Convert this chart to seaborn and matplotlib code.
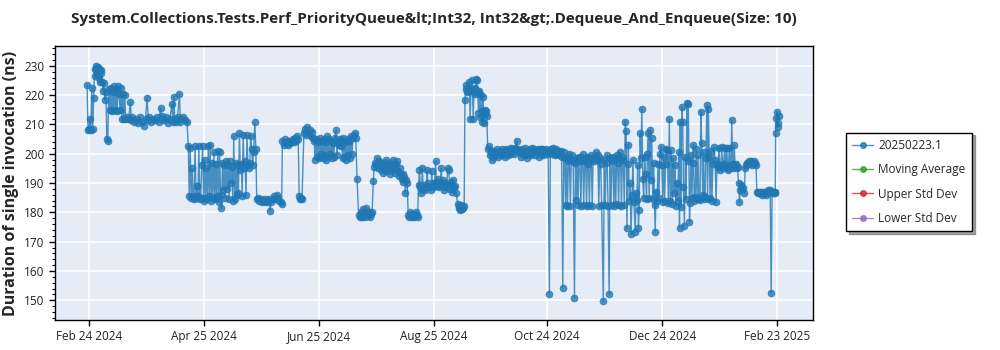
import numpy as np
import pandas as pd
import matplotlib
matplotlib.use("Agg")
import matplotlib.pyplot as plt
import matplotlib.dates as mdates
from matplotlib.ticker import AutoMinorLocator
from matplotlib.lines import Line2D
import seaborn as sns

# ---------------- data (day offset from 2024-02-24, duration ns) ----------------
start_date = "2024-02-24"
series_label = "20250223.1"
legend_extra = ["Moving Average", "Upper Std Dev", "Lower Std Dev"]
title_text = "System.Collections.Tests.Perf_PriorityQueue&lt;Int32, Int32&gt;.Dequeue_And_Enqueue(Size: 10)"
ylabel_text = "Duration of single invocation (ns)"
tick_dates = ["2024-02-24", "2024-04-25", "2024-06-25", "2024-08-25",
              "2024-10-24", "2024-12-24", "2025-02-23"]
y_ticks = [150, 160, 170, 180, 190, 200, 210, 220, 230]

seg_feb = [(-1.0, 223.5), (-0.5, 208.0), (0.0, 208.3), (0.5, 212.0), (1.0, 208.0),
           (1.5, 222.5), (2.0, 208.5), (2.5, 219.0), (3.0, 229.0), (3.3, 226.5),
           (3.6, 228.5), (4.0, 230.0), (4.3, 227.0), (4.6, 229.5), (5.0, 228.0),
           (5.3, 226.0), (5.6, 229.0), (6.0, 224.5), (6.3, 227.5), (6.6, 228.5),
           (7.0, 224.5), (7.5, 221.5), (8.0, 224.0), (8.5, 218.5), (9.0, 221.0),
           (9.5, 205.0), (10.0, 204.5), (10.5, 222.0), (11.0, 215.0), (11.5, 222.5),
           (12.0, 214.5), (12.5, 221.0), (13.0, 215.0), (13.5, 223.0), (14.0, 215.0),
           (14.5, 222.0), (15.0, 214.5), (15.5, 223.0), (16.0, 220.5), (16.5, 215.0),
           (17.0, 222.5), (17.5, 212.0), (18.0, 220.5), (18.5, 212.0), (19.0, 220.0),
           (19.5, 212.0), (20.0, 212.5)]

seg_mar = [(21, 212.0), (22, 217.5), (22.5, 211.5), (23, 212.5), (24, 211.0),
           (25, 212.0), (26, 210.5), (27, 212.5), (28, 211.0), (29, 209.5),
           (30, 212.0), (30.8, 219.0), (31.5, 211.5), (32, 212.5), (33, 211.0),
           (34, 212.0), (35, 211.5), (36, 212.5), (37, 211.0), (38, 215.5),
           (38.5, 212.0), (39, 213.0), (40, 211.5), (41, 212.5), (42, 210.5),
           (43, 212.0), (44, 217.0), (44.5, 211.0), (45, 219.5), (45.5, 212.0),
           (46, 211.0), (47, 212.5), (48, 220.5), (48.5, 211.0), (49, 212.0),
           (50, 212.5), (51, 211.5), (52, 211.0)]

seg_apr = [(52.7, 202.5), (53.2, 185.5), (53.7, 202.0), (54.2, 185.0), (54.7, 195.0),
           (55.2, 185.5), (55.7, 184.5), (56.3, 202.5), (56.8, 185.0), (57.3, 189.0),
           (57.8, 185.5), (58.3, 202.5), (58.8, 184.5), (59.3, 185.0), (59.8, 196.0),
           (60.3, 202.5), (60.8, 184.0), (61.3, 198.0), (61.8, 185.0), (62.3, 195.0),
           (62.8, 184.5), (63.3, 202.5), (63.8, 185.5), (64.3, 203.0), (64.8, 184.0),
           (65.3, 197.0), (65.8, 185.0), (66.3, 200.5), (66.8, 184.5), (67.3, 196.5),
           (67.8, 185.5), (68.3, 201.0), (68.8, 183.5), (69.3, 200.5), (69.8, 186.0),
           (70.3, 181.5), (70.8, 197.0), (71.3, 187.5), (71.8, 196.0), (72.3, 185.0),
           (72.8, 197.5), (73.3, 188.0), (73.8, 196.0), (74.3, 184.5), (74.8, 197.5),
           (75.3, 190.0), (75.8, 195.5), (76.3, 184.0), (76.8, 206.0), (77.3, 184.5),
           (77.8, 197.0), (78.3, 186.0), (78.8, 196.0), (79.3, 186.5), (79.8, 207.0),
           (80.3, 194.5), (80.8, 196.5), (81.3, 185.5), (81.8, 206.5), (82.3, 195.0),
           (82.8, 197.5), (83.3, 186.0), (83.8, 206.5), (84.3, 196.0), (84.8, 195.0),
           (85.3, 197.0), (85.8, 206.0), (86.3, 201.5), (86.8, 196.0), (87.3, 200.5),
           (88.0, 210.8), (88.5, 201.5)]

seg_may = [(89.0, 184.5), (89.7, 185.0), (90.4, 184.0), (91.1, 184.5), (91.8, 183.5),
           (92.5, 184.0), (93.2, 184.5), (93.9, 183.5), (94.6, 184.0), (95.3, 184.5),
           (96.0, 180.5), (96.7, 183.5), (97.4, 184.5), (98.1, 185.5), (98.8, 184.5),
           (99.5, 186.0), (100.2, 185.0), (100.9, 184.0), (101.6, 183.5), (102.2, 183.0),
           (102.6, 204.5), (103.2, 203.0), (103.8, 205.0), (104.4, 203.5), (105.0, 204.0),
           (105.6, 203.0), (106.2, 204.5), (106.8, 203.5), (107.4, 204.0), (108.0, 205.0),
           (108.6, 204.0), (109.2, 205.5), (109.8, 204.5), (110.4, 206.0), (111.0, 205.0),
           (111.5, 185.5), (112.0, 184.5), (112.5, 185.0), (113.0, 184.5),
           (114.0, 207.0), (114.6, 208.5), (115.2, 206.5), (115.8, 209.0), (116.4, 207.5),
           (117.0, 208.0), (117.6, 206.0), (118.2, 207.5), (118.8, 205.5)]

seg_jun = [(119.4, 204.5), (119.9, 198.0), (120.4, 205.0), (120.9, 199.0), (121.4, 204.0),
           (121.9, 198.5), (122.4, 205.5), (122.9, 200.0), (123.4, 204.5), (123.9, 198.5),
           (124.4, 205.0), (124.9, 199.5), (125.4, 204.0), (125.9, 198.0), (126.4, 206.0),
           (126.9, 199.0), (127.4, 205.0), (127.9, 200.0), (128.4, 204.5), (128.9, 198.5),
           (129.4, 203.5), (129.9, 199.0), (130.4, 205.5), (131.0, 208.0), (131.5, 199.5),
           (132.0, 204.0), (132.5, 203.0), (133.0, 205.0), (133.5, 202.5), (134.0, 204.5),
           (134.5, 198.5), (135.0, 205.5), (135.5, 199.0), (136.0, 204.0), (136.5, 198.0),
           (137.0, 205.0), (137.5, 199.5), (138.0, 204.5), (138.5, 198.5), (139.0, 206.0),
           (139.5, 200.0), (140.0, 205.5), (140.5, 206.5), (141.0, 207.0), (141.5, 205.5),
           (142.2, 191.5)]

seg_jul = [(143.0, 179.0), (143.6, 178.5), (144.2, 180.0), (144.8, 178.5), (145.4, 181.0),
           (146.0, 179.5), (146.6, 178.5), (147.2, 181.5), (147.8, 179.0), (148.4, 180.0),
           (149.0, 178.5), (149.6, 179.5), (150.2, 180.0), (150.8, 190.8),
           (151.3, 195.5), (151.8, 197.0), (152.3, 196.0), (152.8, 198.5), (153.3, 195.0),
           (153.8, 197.5), (154.3, 196.0), (154.8, 194.5), (155.3, 197.0), (155.8, 193.5),
           (156.3, 196.5), (156.8, 195.0), (157.3, 198.0), (157.8, 194.0), (158.3, 196.5),
           (158.8, 195.5), (159.3, 197.0), (159.8, 193.0), (160.3, 196.0), (160.8, 194.5),
           (161.3, 198.0), (161.8, 195.0), (162.3, 193.5), (162.8, 196.5), (163.3, 197.5),
           (163.8, 194.0), (164.3, 192.5), (164.8, 195.0), (165.3, 193.0), (165.8, 191.5),
           (166.3, 193.0), (166.8, 190.5), (167.3, 192.0), (167.8, 186.5), (168.3, 191.0),
           (168.8, 190.0)]

seg_aug = [(169.3, 179.0), (169.8, 178.5), (170.3, 180.0), (170.8, 179.0), (171.3, 178.5),
           (171.8, 179.5), (172.3, 178.5), (172.8, 179.0), (173.3, 180.0), (173.8, 179.0),
           (174.3, 178.5), (174.8, 189.5), (175.3, 194.5), (175.8, 188.5), (176.3, 186.5),
           (176.8, 195.0), (177.3, 188.0), (177.8, 189.5), (178.3, 187.5), (178.8, 188.5),
           (179.3, 194.5), (179.8, 190.0), (180.3, 188.5), (180.8, 189.0), (181.3, 187.5),
           (181.8, 194.0), (182.3, 188.5), (182.8, 190.0), (183.3, 189.0), (183.8, 197.5),
           (184.3, 190.5), (184.8, 189.0), (185.3, 191.5), (185.8, 188.5), (186.3, 190.0),
           (186.8, 195.0), (187.3, 189.5), (187.8, 191.0), (188.3, 187.5), (188.8, 190.0),
           (189.3, 188.5), (189.8, 189.5), (190.3, 195.0), (190.8, 194.5), (191.3, 188.0),
           (191.8, 190.5), (192.3, 187.0), (192.8, 189.5), (193.3, 191.0), (193.8, 188.5),
           (194.3, 189.0), (194.8, 186.5),
           (195.5, 183.0), (196.0, 181.5), (196.5, 182.0), (197.0, 180.8), (197.5, 182.5),
           (198.0, 181.0), (198.5, 181.5), (199.0, 182.0)]

seg_sep = [(199.4, 218.5), (199.8, 222.0), (200.2, 223.5), (200.6, 221.0), (201.0, 222.5),
           (201.4, 224.5), (201.8, 221.5), (202.2, 212.0), (202.6, 221.5), (203.0, 225.0),
           (203.4, 222.0), (203.8, 212.0), (204.2, 221.0), (204.6, 222.5), (205.0, 220.5),
           (205.4, 225.5), (205.8, 225.0), (206.2, 221.0), (206.6, 214.0), (207.0, 221.5),
           (207.4, 212.5), (207.8, 220.0), (208.2, 211.0), (208.6, 214.5), (209.0, 219.5),
           (209.4, 210.5), (209.8, 215.0), (210.2, 213.5), (210.6, 214.5), (211.0, 213.0),
           (211.5, 201.5), (212.0, 202.5), (212.5, 199.5), (213.0, 200.5), (213.5, 198.0),
           (214.0, 200.0), (214.5, 199.0), (215.0, 201.0), (215.5, 199.5), (216.0, 200.5),
           (216.5, 201.5), (217.0, 199.0), (217.5, 200.5), (218.0, 201.0), (218.5, 199.5),
           (219.0, 201.5), (219.5, 200.0), (220.0, 200.5), (220.5, 199.0), (221.0, 201.5),
           (221.5, 200.5), (222.0, 201.0), (222.5, 199.5), (223.0, 201.5), (223.5, 200.0),
           (224.0, 202.0), (224.5, 200.5), (225.0, 201.5), (225.5, 200.0), (226.0, 202.0),
           (226.8, 204.5), (227.3, 201.5), (228.0, 200.5), (228.5, 201.0), (229.0, 199.0),
           (229.5, 201.5), (230.0, 200.0), (230.5, 201.0), (231.0, 199.5), (231.5, 202.0),
           (232.0, 200.5), (232.5, 198.5), (233.0, 201.0), (233.5, 200.0), (234.0, 201.5),
           (234.5, 199.5), (235.0, 202.0), (235.5, 200.5), (236.0, 201.5), (236.5, 199.5),
           (237.0, 201.0), (237.5, 200.5), (238.0, 201.5), (238.5, 199.0), (239.0, 200.5),
           (239.5, 201.5), (240.0, 200.0), (240.5, 201.5), (241.0, 199.5), (241.5, 201.0),
           (242.0, 200.5), (242.5, 201.5), (243.0, 200.0), (243.5, 201.0)]

seg_oct = [(244.2, 152.3), (244.7, 200.5), (245.2, 201.5), (245.7, 200.0), (246.2, 202.0),
           (246.7, 201.0), (247.2, 199.5), (247.7, 201.5), (248.2, 200.0), (248.7, 201.0),
           (249.2, 199.5), (249.7, 200.5), (250.2, 201.0), (250.7, 199.0), (251.3, 154.2),
           (251.8, 200.5), (252.3, 198.5), (252.8, 182.5), (253.3, 199.0), (253.8, 182.0),
           (254.3, 197.5), (254.8, 200.0), (255.3, 182.0), (255.8, 198.0), (256.3, 199.5),
           (256.8, 197.5), (257.5, 150.9), (258.0, 197.0), (258.4, 184.2), (258.9, 198.5),
           (259.4, 182.5), (259.9, 199.0), (260.4, 197.5), (260.9, 182.0), (261.4, 198.0),
           (261.9, 200.0), (262.4, 182.5), (262.9, 197.5), (263.4, 198.5), (263.9, 182.0),
           (264.4, 199.0), (264.9, 196.5), (265.4, 182.5), (265.9, 198.0), (266.4, 199.5),
           (266.9, 182.0), (267.4, 198.5), (267.9, 197.5), (268.4, 199.0), (268.9, 200.5),
           (269.4, 198.0), (269.9, 199.5), (270.4, 182.0), (270.9, 198.5), (271.4, 196.5),
           (271.9, 182.5), (272.8, 149.8), (273.3, 198.0), (273.8, 182.5), (274.3, 197.0),
           (274.8, 199.5), (275.3, 182.0), (275.9, 152.1), (276.4, 198.5), (276.9, 182.5),
           (277.4, 197.5), (277.9, 199.0), (278.4, 182.0), (278.9, 198.5), (279.4, 183.0),
           (279.9, 199.5), (280.4, 197.0), (280.9, 182.5), (281.4, 198.5), (281.9, 200.5),
           (282.4, 182.0), (282.9, 199.0)]

seg_dec = [(283.4, 198.0), (283.9, 182.5), (284.4, 211.0), (284.9, 207.9), (285.3, 174.5),
           (285.8, 196.5), (286.1, 203.0), (286.6, 184.0), (287.0, 189.9), (287.5, 172.5),
           (288.0, 186.0), (288.5, 198.0), (289.0, 183.5), (289.7, 173.4), (290.2, 186.5),
           (290.6, 184.2), (291.0, 196.0), (291.4, 174.5), (291.8, 180.8), (292.3, 207.0),
           (292.8, 198.5), (293.2, 215.3), (293.7, 191.5), (294.2, 185.0), (294.7, 199.0),
           (295.2, 193.0), (295.7, 184.5), (296.2, 200.0), (296.7, 207.0), (297.1, 185.0),
           (297.6, 208.0), (298.0, 191.0), (298.5, 205.3), (299.0, 184.5), (299.5, 197.0),
           (300.0, 182.5), (300.3, 173.4), (300.8, 187.0), (301.3, 184.0), (301.8, 196.5),
           (302.3, 185.0), (302.8, 200.0), (303.3, 202.2), (303.8, 196.0), (304.3, 183.5),
           (304.8, 199.0), (305.3, 184.0), (305.8, 196.5), (306.3, 201.5), (306.8, 201.3),
           (307.3, 183.3), (307.8, 211.8), (308.3, 184.0), (308.8, 201.3), (309.3, 183.0),
           (309.8, 198.5), (310.3, 186.5), (310.9, 196.2), (311.3, 182.3), (311.8, 189.9),
           (312.3, 184.0), (312.8, 200.5), (313.2, 174.8), (313.6, 211.0), (313.9, 181.7),
           (314.4, 215.9), (314.9, 211.0), (315.3, 188.7), (315.8, 175.5), (316.3, 199.0),
           (316.7, 184.5), (317.1, 217.2), (317.5, 197.5), (317.9, 217.0), (318.5, 176.8),
           (318.8, 183.1), (319.3, 199.5), (319.8, 185.0), (320.2, 197.0), (320.6, 203.0)]

seg_jan = [(321.0, 184.0), (321.5, 185.3), (322.0, 201.5), (322.5, 184.5), (323.0, 199.5),
           (323.5, 185.0), (324.1, 184.2), (324.5, 214.4), (325.0, 203.6), (325.5, 186.0),
           (326.0, 200.5), (326.4, 184.5), (326.8, 185.3), (327.2, 198.5), (327.7, 216.7),
           (328.1, 184.5), (328.5, 215.2), (329.0, 199.0), (329.4, 184.8), (329.9, 201.0),
           (330.4, 184.0), (330.9, 196.5), (331.6, 202.2), (332.1, 197.9), (332.6, 183.6),
           (333.1, 196.5), (333.6, 195.5), (334.1, 202.0), (334.7, 194.4), (335.2, 196.0),
           (335.6, 202.2), (336.1, 195.0), (336.6, 196.5), (337.1, 202.0), (337.6, 195.5),
           (338.3, 201.9), (338.7, 195.0), (339.1, 194.4), (339.6, 202.0), (340.1, 196.0),
           (340.5, 195.5), (340.9, 211.5), (341.4, 196.5), (341.8, 195.0), (342.2, 203.0),
           (342.7, 196.0), (343.1, 196.5), (343.6, 195.0), (344.0, 195.5), (344.5, 189.9),
           (345.0, 183.6), (345.4, 187.6), (345.9, 189.5), (346.4, 188.5), (347.1, 188.2),
           (347.6, 186.5), (348.0, 195.0), (348.5, 196.0), (349.0, 197.0), (349.5, 196.5),
           (350.0, 197.5), (350.7, 196.7), (351.2, 197.5), (351.7, 196.0), (352.2, 197.0),
           (352.7, 197.5), (353.3, 196.7), (353.8, 196.0)]

seg_feb25 = [(354.2, 187.1), (354.7, 186.5), (355.2, 187.0), (355.7, 186.5), (356.2, 187.0),
             (356.7, 186.5), (357.2, 186.0), (357.7, 186.5), (358.2, 187.0), (358.7, 186.5),
             (359.2, 186.0), (359.7, 187.0), (360.2, 187.5), (360.7, 186.5), (361.3, 187.6),
             (361.8, 152.6), (362.3, 187.0), (362.8, 186.5), (363.3, 187.0), (363.6, 186.5),
             (364.0, 187.1), (364.2, 207.0), (364.5, 212.1), (364.8, 214.4), (365.2, 209.0),
             (365.7, 210.4), (366.0, 213.0)]

segments = [seg_feb, seg_mar, seg_apr, seg_may, seg_jun, seg_jul, seg_aug,
            seg_sep, seg_oct, seg_dec, seg_jan, seg_feb25]

# ---------------- build frame ----------------
rows = [p for seg in segments for p in seg]
df = pd.DataFrame(rows, columns=["day", "duration"])
df["date"] = pd.Timestamp(start_date) + pd.to_timedelta(df["day"], unit="D")

# ---------------- style ----------------
sns.set_theme(style="darkgrid", rc={
    "axes.facecolor": "#e5ecf6",
    "grid.color": "white",
    "grid.linewidth": 1.2,
    "axes.edgecolor": "black",
    "axes.linewidth": 1.0,
})
plt.rcParams["font.family"] = ["Open Sans", "DejaVu Sans"]

fig = plt.figure(figsize=(10, 3.5), dpi=100)
ax = fig.add_axes([0.055, 0.086, 0.758, 0.782])

blue = "#1f77b4"
sns.lineplot(data=df, x="date", y="duration", ax=ax, color=blue, sort=True,
             estimator=None, linewidth=1.0, alpha=0.8, marker="o",
             markersize=5, markeredgecolor=blue, markeredgewidth=0.5,
             label=series_label, legend=False)

ax.set_xlim(pd.Timestamp("2024-02-06"), pd.Timestamp("2025-03-14"))
ax.set_ylim(143.3, 236.7)
ax.set_yticks(y_ticks)
ax.yaxis.set_minor_locator(AutoMinorLocator(5))
ax.set_xticks([pd.Timestamp(d) for d in tick_dates])
ax.xaxis.set_major_formatter(mdates.DateFormatter("%b %d %Y"))

ax.tick_params(axis="both", which="major", direction="out", length=4,
               width=1, color="black", labelsize=8.5, labelcolor="#222222",
               bottom=True, left=True)
ax.tick_params(axis="y", which="minor", direction="out", length=2,
               width=0.8, color="black", left=True)
ax.grid(True, which="major", color="white", linewidth=1.2)
ax.grid(False, which="minor")
for s in ax.spines.values():
    s.set_visible(True)
    s.set_color("black")
    s.set_linewidth(1.0)

ax.set_xlabel("")
ax.set_ylabel(ylabel_text, fontsize=11.5, fontweight="bold", labelpad=4)
fig.suptitle(title_text, x=0.434, y=0.965, fontsize=11, fontweight="bold")

handles = [Line2D([0], [0], color=blue, marker="o", markersize=4, linewidth=1, alpha=0.8)]
for c in ["#2ca02c", "#d62728", "#9467bd"]:
    handles.append(Line2D([0], [0], color=c, marker="o", markersize=4, linewidth=1, alpha=0.8))
labels = [series_label] + legend_extra
leg = fig.legend(handles, labels, loc="center left", bbox_to_anchor=(0.846, 0.48),
                 frameon=True, fancybox=False, shadow=True, fontsize=8.5,
                 handlelength=1.75, handletextpad=0.45, borderpad=0.55,
                 borderaxespad=0.0, labelspacing=0.95,
                 edgecolor="black", facecolor="white")
leg.get_frame().set_linewidth(1.0)

fig.savefig("out.png", dpi=100)
